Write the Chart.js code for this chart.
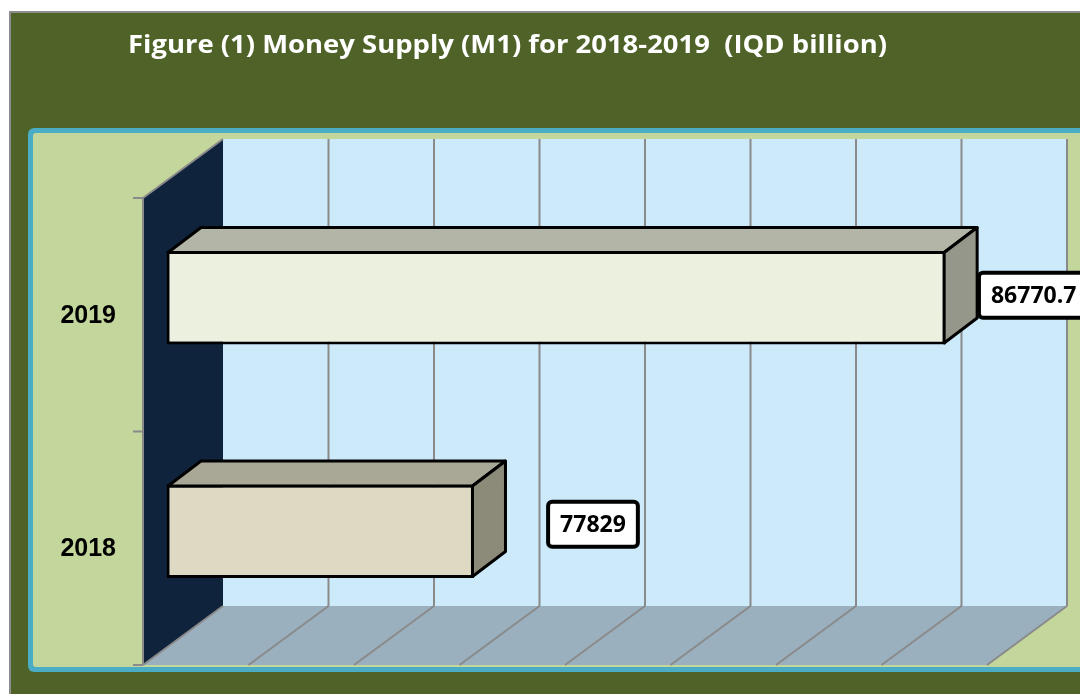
<!DOCTYPE html>
<html>
<head>
<meta charset="utf-8">
<title>Money Supply (M1)</title>
<script src="https://cdn.jsdelivr.net/npm/chart.js@4.4.1/dist/chart.umd.min.js"></script>
<style>
  html, body { margin: 0; padding: 0; background: #ffffff; }
  #moneyChart { display: block; }
</style>
</head>
<body>
<canvas id="moneyChart" width="1080" height="694"></canvas>
<script>
const years = ['2018', '2019'];
const moneySupply = [77829, 86770.7];
const axisMin = 72000;
const axisMax = 88000;
const axisStep = 2000;
const chartTitle = 'Figure (1) Money Supply (M1) for 2018-2019  (IQD billion)';

const frontColors = ['#ddd9c3', '#ebf1de'];
const topColors = ['#a9a897', '#b3b5a6'];
const sideColors = ['#8c8b79', '#95978a'];

(function () {
  // fake 3d: depth of the whole box, depth of a bar, and how far a bar sits behind the front plane
  const wallDepth = { x: 80, y: -59 };
  const barDepth = { x: 33, y: -25 };
  const barInset = { x: 23.5, y: -17 };
  // value boxes were dragged by hand, so each one has its own shift from the bar end
  const labelShift = [{ x: 119, y: -7 }, { x: 88, y: -2.5 }];

  const gridColor = '#8a8a8a';

  function polygon(ctx, pts, fill, stroke, width) {
    ctx.beginPath();
    ctx.moveTo(pts[0][0], pts[0][1]);
    for (let i = 1; i < pts.length; i++) {
      ctx.lineTo(pts[i][0], pts[i][1]);
    }
    ctx.closePath();
    if (fill) {
      ctx.fillStyle = fill;
      ctx.fill();
    }
    if (stroke) {
      ctx.strokeStyle = stroke;
      ctx.lineWidth = width;
      ctx.stroke();
    }
  }

  function line(ctx, x1, y1, x2, y2) {
    ctx.beginPath();
    ctx.moveTo(x1, y1);
    ctx.lineTo(x2, y2);
    ctx.stroke();
  }

  function roundRect(ctx, x, y, w, h, r) {
    ctx.beginPath();
    ctx.moveTo(x + r, y);
    ctx.arcTo(x + w, y, x + w, y + h, r);
    ctx.arcTo(x + w, y + h, x, y + h, r);
    ctx.arcTo(x, y + h, x, y, r);
    ctx.arcTo(x, y, x + w, y, r);
    ctx.closePath();
  }

  // front plane geometry, worked out from the scales
  function frontPlane(chart) {
    const xs = chart.scales.x;
    const area = chart.chartArea;
    return {
      fx: (v) => xs.getPixelForValue(v) - barInset.x,
      top: area.top - barInset.y,
      bottom: area.bottom - barInset.y,
      left: xs.getPixelForValue(axisMin) - barInset.x,
      right: xs.getPixelForValue(axisMax) - barInset.x
    };
  }

  const box3d = {
    id: 'box3d',

    beforeDraw(chart) {
      const ctx = chart.ctx;
      ctx.save();
      // outer frame
      ctx.fillStyle = '#ffffff';
      ctx.fillRect(0, 0, chart.width, chart.height);
      ctx.fillStyle = '#8c8c8c';
      ctx.fillRect(9, 11, chart.width, chart.height);
      ctx.fillStyle = '#4f6228';
      ctx.fillRect(11, 13, chart.width, chart.height);
      // plot area with teal border
      roundRect(ctx, 28, 128, 1100, 544, 6);
      ctx.fillStyle = '#4bacc6';
      ctx.fill();
      roundRect(ctx, 33, 133, 1090, 534, 3);
      ctx.fillStyle = '#c3d69b';
      ctx.fill();
      ctx.restore();
    },

    beforeDatasetsDraw(chart) {
      const ctx = chart.ctx;
      const p = frontPlane(chart);
      const dx = wallDepth.x;
      const dy = wallDepth.y;
      ctx.save();

      // back wall
      ctx.fillStyle = '#cdeafb';
      ctx.fillRect(p.left + dx, p.top + dy, p.right - p.left, p.bottom - p.top);

      // floor
      polygon(ctx, [[p.left, p.bottom], [p.right, p.bottom], [p.right + dx, p.bottom + dy], [p.left + dx, p.bottom + dy]], '#9bb0bf');

      // left side wall
      polygon(ctx, [[p.left, p.top], [p.left + dx, p.top + dy], [p.left + dx, p.bottom + dy], [p.left, p.bottom]], '#10233d');

      // grid lines on the back wall and across the floor
      ctx.strokeStyle = gridColor;
      ctx.lineWidth = 2;
      for (let v = axisMin; v <= axisMax; v += axisStep) {
        const x = p.fx(v);
        if (v > axisMin) {
          line(ctx, x + dx, p.top + dy, x + dx, p.bottom + dy);
        }
        line(ctx, x, p.bottom, x + dx, p.bottom + dy);
      }

      // side wall edges and category ticks
      line(ctx, p.left, p.top, p.left + dx, p.top + dy);
      line(ctx, p.left, p.top, p.left, p.bottom);
      const band = (p.bottom - p.top) / years.length;
      for (let i = 0; i <= years.length; i++) {
        line(ctx, p.left - 10, p.top + band * i, p.left, p.top + band * i);
      }
      ctx.restore();
    },

    afterDatasetsDraw(chart) {
      const ctx = chart.ctx;
      const meta = chart.getDatasetMeta(0);
      const ys = chart.scales.y;
      ctx.save();
      ctx.lineJoin = 'round';

      // top and side faces of each bar
      meta.data.forEach((bar, i) => {
        const b = bar.getProps(['x', 'y', 'base', 'height'], true);
        const x0 = b.base + 1.5;
        const x1 = b.x - 1.5;
        const y0 = b.y - b.height / 2 + 1.5;
        const y1 = b.y + b.height / 2 - 1.5;
        const ddx = barDepth.x;
        const ddy = barDepth.y;
        polygon(ctx, [[x0, y0], [x1, y0], [x1 + ddx, y0 + ddy], [x0 + ddx, y0 + ddy]], topColors[i], '#000000', 3);
        polygon(ctx, [[x1, y0], [x1 + ddx, y0 + ddy], [x1 + ddx, y1 + ddy], [x1, y1]], sideColors[i], '#000000', 3);
      });

      // value boxes
      ctx.font = 'bold 23px "Open Sans"';
      ctx.textAlign = 'center';
      ctx.textBaseline = 'middle';
      meta.data.forEach((bar, i) => {
        const text = String(moneySupply[i]);
        const w = ctx.measureText(text).width + 24;
        const h = 45;
        const cx = bar.x + labelShift[i].x;
        const cy = bar.y + labelShift[i].y;
        roundRect(ctx, cx - w / 2, cy - h / 2, w, h, 4);
        ctx.fillStyle = '#ffffff';
        ctx.fill();
        ctx.strokeStyle = '#000000';
        ctx.lineWidth = 4;
        ctx.stroke();
        ctx.fillStyle = '#000000';
        ctx.fillText(text, cx, cy + 1);
      });

      // category labels, centred on the front plane band
      ctx.font = 'bold 25px "Liberation Sans"';
      ctx.textAlign = 'right';
      years.forEach((yr, i) => {
        ctx.fillText(yr, 116, ys.getPixelForValue(i) - barInset.y + 1);
      });

      // title, squeezed a little to keep the narrow look
      ctx.font = 'bold 25px "Open Sans"';
      ctx.textAlign = 'left';
      ctx.textBaseline = 'alphabetic';
      const tw = ctx.measureText(chartTitle).width;
      ctx.translate(128, 53);
      ctx.scale(759 / tw, 1);
      ctx.fillStyle = '#ffffff';
      ctx.fillText(chartTitle, 0, 0);
      ctx.restore();
    }
  };

  function buildChart() {
    new Chart('moneyChart', {
      type: 'bar',
      data: {
        labels: years,
        datasets: [{
          label: 'M1',
          data: moneySupply,
          base: axisMin,
          backgroundColor: frontColors,
          borderColor: '#000000',
          borderWidth: 3,
          borderSkipped: false,
          barPercentage: 0.4,
          categoryPercentage: 1
        }]
      },
      options: {
        indexAxis: 'y',
        responsive: false,
        animation: false,
        layout: {
          padding: { left: 166.5, right: 69.5, top: 181, bottom: 46 }
        },
        scales: {
          x: {
            display: false,
            min: axisMin,
            max: axisMax,
            ticks: { stepSize: axisStep }
          },
          y: {
            display: false,
            reverse: true
          }
        },
        plugins: {
          legend: { display: false },
          tooltip: { enabled: false },
          title: { display: false }
        }
      },
      plugins: [box3d]
    });
  }

  buildChart();
})();
</script>
</body>
</html>
